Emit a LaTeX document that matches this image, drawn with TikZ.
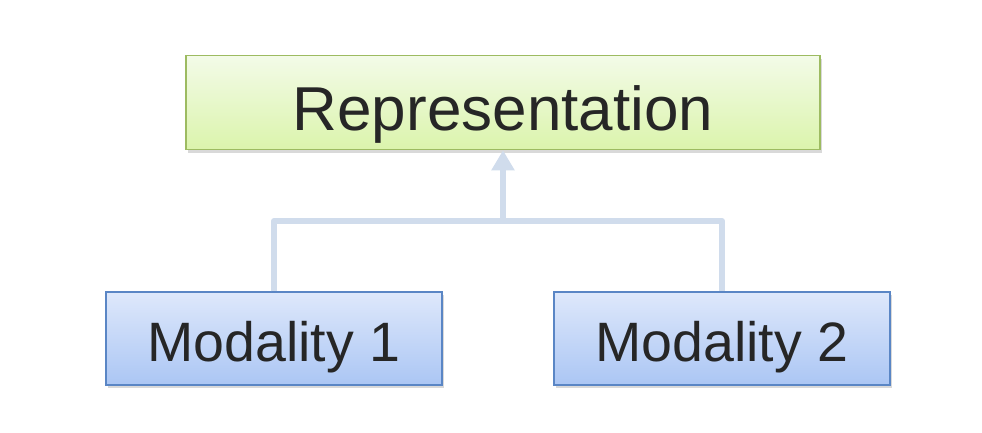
\documentclass[tikz,border=0pt]{standalone}
\usepackage{fontspec}
\setmainfont{Liberation Sans}
\usetikzlibrary{arrows.meta,shadows,positioning}
\definecolor{txt}{HTML}{262626}
\definecolor{greentop}{HTML}{F3FBE8}
\definecolor{greenbot}{HTML}{DBF4AC}
\definecolor{greenline}{HTML}{9DBB61}
\definecolor{bluetop}{HTML}{DEE8FB}
\definecolor{bluebot}{HTML}{ABC6F4}
\definecolor{blueline}{HTML}{5A86C5}
\definecolor{conncol}{HTML}{D0DCEC}
\tikzset{
  box/.style={draw, line width=1.5pt, inner sep=0pt, text=txt, text depth=0pt,
    drop shadow={shadow xshift=2pt, shadow yshift=-3pt, opacity=0.25, fill=black!60}},
  repbox/.style={box, draw=greenline, top color=greentop, bottom color=greenbot,
    minimum width=634pt, minimum height=94pt, text height=56pt,
    font=\fontsize{62}{70}\selectfont},
  modbox/.style={box, draw=blueline, top color=bluetop, bottom color=bluebot,
    minimum width=336pt, minimum height=93pt, text height=45pt,
    font=\fontsize{55.5}{64}\selectfont},
  conn/.style={draw=conncol, line width=6pt, line join=round}
}
\begin{document}
\begin{tikzpicture}[x=1pt,y=-1pt]
\useasboundingbox (0,0) rectangle (982,432);
\node[repbox] (rep) at (503,102.5) {Representation};
\node[modbox] (m1) at (274,338.5) {Modality 1};
\node[modbox] (m2) at (722,338.5) {Modality 2};
\coordinate (j) at (503,221);
\begin{scope}[on background layer/.try]
\draw[conn] (m1.north) |- (j) -| (m2.north);
\draw[conn, -{Triangle[width=22pt,length=20pt]}] (j) -- (rep.south);
\end{scope}
\end{tikzpicture}
\end{document}
